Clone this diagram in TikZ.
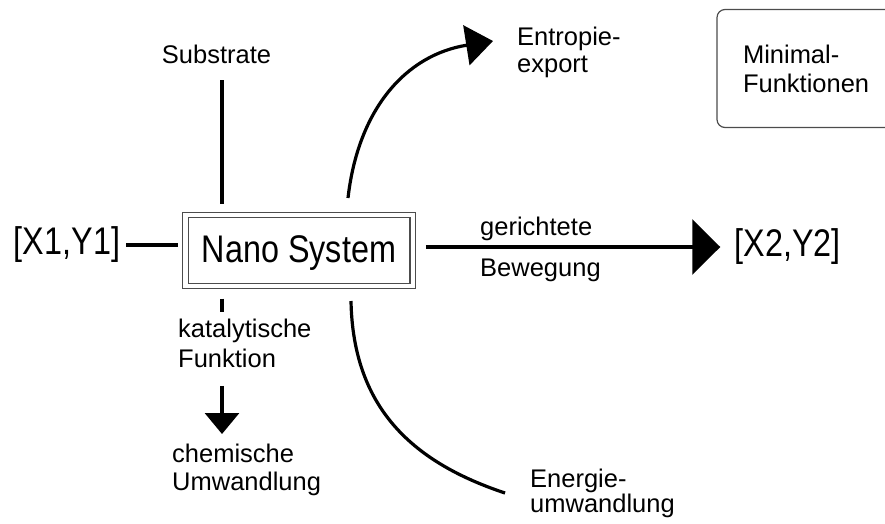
\documentclass[tikz,border=0pt]{standalone}
\usepackage{fontspec}
\setmainfont{Liberation Sans}
\newfontfamily\narrowfont{Liberation Sans}[FakeStretch=0.84]
\usepackage{tikz}
\usetikzlibrary {arrows.meta}

\tikzset{
    lbl/.style = {inner sep=0pt, align=left, font=\fontsize{25.5}{#1}\selectfont},
    lbl/.default = 28,
    big/.style = {inner sep=0pt, font=\narrowfont\fontsize{38.5}{40}\selectfont},
    sysbox/.style = {draw=black!70, double, double distance=4.5pt, line width=1.2pt,
                     minimum width=227.5pt, minimum height=71pt, inner sep=0pt,
                     text height=27.6pt, text depth=3pt,
                     font=\narrowfont\fontsize{38.5}{40}\selectfont},
    conn/.style = {line width=3.2pt},
}

\begin{document}
\begin{tikzpicture}[x=1pt,y=-1pt]

            %\draw [help lines] (0,0) grid (885,523);
            \useasboundingbox (0,0) rectangle (885,523);
            \clip (0,0) rectangle (885,523);

            \path   (299,250.5) node (nano) [sysbox] {Nano System}
                    (67,245) node (xa) [big] {[X1,Y1]}
                    (787.5,247) node (xb) [big] {[X2,Y2]}
                    (216.5,63) node (subst) [lbl, anchor=base] {Substrate}
                    (178,318.7) node (kat) [lbl=30, anchor=north west] {katalytische\\Funktion}
                    (172,443.7) node (chem) [lbl, anchor=north west] {chemische\\Umwandlung}
                    (517,26.7) node (ent) [lbl=27, anchor=north west] {Entropie-\\export}
                    (530,468.7) node (energ) [lbl=25, anchor=north west] {Energie-\\umwandlung}
                    (480,216.7) node (ger) [lbl, anchor=north west] {gerichtete}
                    (480,258.7) node (bew) [lbl, anchor=north west] {Bewegung}
                    (808.5,68.5) node (minf) [lbl=29, draw=black!70, line width=1.2pt, rounded corners=8pt,
                        minimum width=183pt, minimum height=118pt, text width=131pt] {Minimal-\\Funktionen};

            % free ends of the curves
            \path   (222,0) coordinate (axis)
                    (348,198) coordinate (ent start)
                    (493,41) coordinate (ent tip)
                    (351,301) coordinate (en start)
                    (505,493) coordinate (en end);

            \draw[conn, shorten <=6pt, shorten >=7pt] (xa.east) -- (xa.east -| nano.west);
            \draw[conn, shorten <=17pt, shorten >=10pt] (axis |- subst.south) -- (axis |- nano.north);
            \draw[conn, shorten <=12pt, shorten >=6.7pt] (axis |- nano.south) -- (axis |- kat.north);
            \draw[conn, arrows = -{Triangle[length=21pt,width=34pt]}, shorten <=18pt, shorten >=9.7pt]
                (axis |- kat.south) -- (axis |- chem.north);
            \draw[conn, arrows = -{Triangle[length=28pt,width=55pt]}, shorten <=12.5pt, shorten >=14pt]
                (nano.east |- xb.west) -- (xb.west);
            \draw[conn, arrows = -{Triangle[length=27pt,width=40pt]}]
                (ent start) .. controls (358,110) and (405,55) .. (ent tip);
            \draw[conn] (en start) .. controls (353,410) and (415,463) .. (en end);

\end{tikzpicture}
\end{document}
